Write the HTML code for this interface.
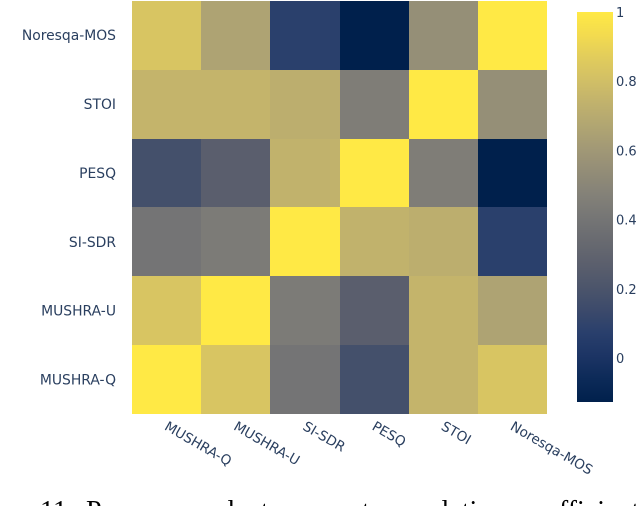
<!DOCTYPE html>
<html>
<head>
<meta charset="utf-8">
<style>
html,body{margin:0;padding:0;background:#fff;width:636px;height:506px;overflow:hidden}
svg{display:block;position:absolute;left:0;top:0}
text{font-family:"DejaVu Sans","Liberation Sans",sans-serif;fill:#2a3f5f}
.tick{font-size:13.9px}
.xtick{font-size:13.6px}
.cbtick{font-size:13px}
.cap{font-family:"Liberation Serif",serif;fill:#000;font-size:28px}
</style>
</head>
<body>
<svg id="chart" width="636" height="506" viewBox="0 0 636 506" xmlns="http://www.w3.org/2000/svg" shape-rendering="crispEdges">
  <text class="cap" y="520" shape-rendering="auto"><tspan x="40">11:</tspan><tspan x="86">Pearson</tspan><tspan x="183">product-moment</tspan><tspan x="384">correlation</tspan><tspan x="520">coefficient</tspan></text>
</svg>
<script>
const categories = ['MUSHRA-Q', 'MUSHRA-U', 'SI-SDR', 'PESQ', 'STOI', 'Noresqa-MOS'];
const row0 = [1, 0.83, 0.40, 0.172, 0.75, 0.83];
const row1 = [0.83, 1, 0.437, 0.267, 0.75, 0.66];
const row2 = [0.40, 0.437, 1, 0.74, 0.72, 0.076];
const row3 = [0.172, 0.267, 0.74, 1, 0.45, -0.127];
const row4 = [0.75, 0.75, 0.72, 0.45, 1, 0.55];
const row5 = [0.83, 0.66, 0.076, -0.127, 0.55, 1];
const colorbarTicks = [0, 0.2, 0.4, 0.6, 0.8, 1];
const colorbarMin = -0.127;
const colorbarMax = 1;
const cividis = ['#00204c', '#0c2a58', '#1c3464', '#293f6c', '#3c4a6b', '#4c556b', '#5b5f6d', '#686a70', '#757575', '#838178', '#928c77', '#a19876', '#b0a572', '#c0b16d', '#d1bf66', '#e1cc5c', '#f3db4f', '#ffe945'];

const svg = document.getElementById('chart');
const NS = 'http://www.w3.org/2000/svg';
const plotLeft = 132, plotRight = 547, plotBottom = 414, plotTop = 0.8;
const barLeft = 577, barWidth = 36, barTop = 12, barBottom = 402;
const tick1Y = 12, tick0Y = 358;

const matrix = [row0, row1, row2, row3, row4, row5];
const cellW = (plotRight - plotLeft) / categories.length;
const cellH = (plotBottom - plotTop) / categories.length;

function xEdge(i) { return Math.round(plotLeft + i * cellW); }
function yEdge(i) { return Math.round(plotBottom - i * cellH); }
function colorbarY(v) { return tick0Y + (tick1Y - tick0Y) * v; }
function hexToRgb(h) { return [1, 3, 5].map(function (p) { return parseInt(h.substr(p, 2), 16); }); }
function colorFor(v) {
  const t = Math.max(0, Math.min(1, (v - colorbarMin) / (colorbarMax - colorbarMin)));
  const pos = t * (cividis.length - 1);
  const lo = Math.floor(pos);
  const hi = Math.min(cividis.length - 1, lo + 1);
  const a = hexToRgb(cividis[lo]);
  const b = hexToRgb(cividis[hi]);
  const f = pos - lo;
  return 'rgb(' + a.map(function (c, k) { return Math.round(c + (b[k] - c) * f); }).join(',') + ')';
}

matrix.forEach(function (row, r) {
  row.forEach(function (v, c) {
    const cell = document.createElementNS(NS, 'rect');
    
    
    cell.setAttribute('x', xEdge(c));
    cell.setAttribute('y', yEdge(r + 1));
    cell.setAttribute('width', xEdge(c + 1) - xEdge(c));
    cell.setAttribute('height', yEdge(r) - yEdge(r + 1));
    cell.setAttribute('fill', colorFor(v));
    svg.appendChild(cell);
  });
});

categories.forEach(function (name, i) {
  const yLabel = document.createElementNS(NS, 'text');
  
  
  yLabel.setAttribute('class', 'tick');
  yLabel.setAttribute('x', 116);
  yLabel.setAttribute('y', plotBottom - (i + 0.5) * cellH + 5);
  yLabel.setAttribute('text-anchor', 'end');
  yLabel.textContent = name;
  svg.appendChild(yLabel);

  const xLabel = document.createElementNS(NS, 'text');
  
  
  xLabel.setAttribute('class', 'xtick');
  const ax = plotLeft + (i + 0.5) * cellW - 3;
  const ay = 429;
  xLabel.setAttribute('transform', 'translate(' + ax + ',' + ay + ') rotate(30)');
  xLabel.setAttribute('x', 0);
  xLabel.setAttribute('y', 0);
  xLabel.textContent = name;
  svg.appendChild(xLabel);
});

for (let y = barTop; y < barBottom; y++) {
  const v = colorbarMax - (y + 0.5 - barTop) / (barBottom - barTop) * (colorbarMax - colorbarMin);
  const strip = document.createElementNS(NS, 'rect');
  
  
  strip.setAttribute('x', barLeft);
  strip.setAttribute('y', y);
  strip.setAttribute('width', barWidth);
  strip.setAttribute('height', 1);
  strip.setAttribute('fill', colorFor(v));
  svg.appendChild(strip);
}

colorbarTicks.forEach(function (v) {
  const label = document.createElementNS(NS, 'text');
  
  
  label.setAttribute('class', 'cbtick');
  label.setAttribute('x', 616);
  label.setAttribute('y', colorbarY(v) + 5);
  label.textContent = String(v);
  svg.appendChild(label);
});
</script>
</body>
</html>
